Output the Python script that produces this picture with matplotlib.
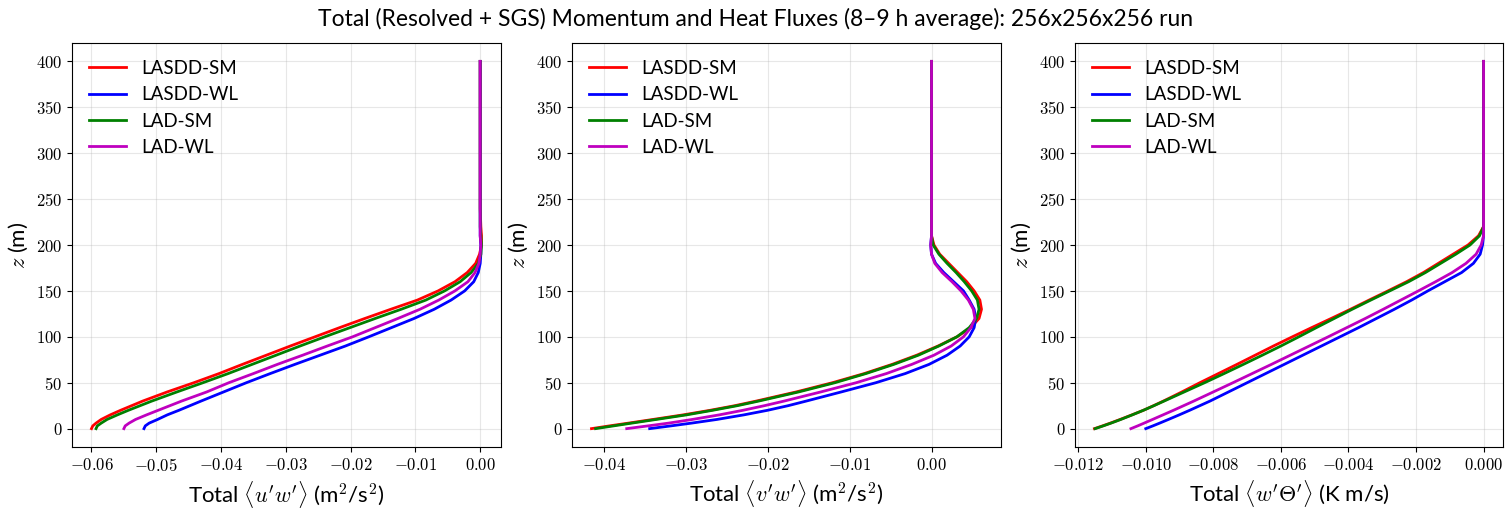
import matplotlib
matplotlib.use("Agg")
import matplotlib.pyplot as plt
from matplotlib.ticker import FuncFormatter, MultipleLocator

plt.rcParams['mathtext.fontset'] = 'cm'
plt.rcParams['font.family'] = ['Lato', 'DejaVu Sans']

# ---------------- data ----------------
z = [0, 3, 6, 10, 15, 20, 25, 30, 40, 50, 60, 70, 80, 90, 100, 110, 120, 130, 140, 150,
     160, 170, 180, 190, 200, 210, 220, 240, 270, 300, 350, 400]

labels = ["LASDD-SM", "LASDD-WL", "LAD-SM", "LAD-WL"]
colors = ["r", "b", "g", "m"]

# Total <u'w'> (m^2/s^2)
uw_lasdd_sm = [-0.0600, -0.0598, -0.0593, -0.0585, -0.0571, -0.0555, -0.0538, -0.0521,
               -0.0483, -0.0442, -0.0403, -0.0367, -0.0330, -0.0293, -0.0255, -0.0217,
               -0.0178, -0.0138, -0.0097, -0.0065, -0.0039, -0.0020, -0.0007, -0.0001,
               0.0002, 0.0002, 0.0001, 0.0, 0.0, 0.0, 0.0, 0.0]
uw_lasdd_wl = [-0.0519, -0.0517, -0.0511, -0.0498, -0.0483, -0.0465, -0.0448, -0.0431,
               -0.0396, -0.0361, -0.0324, -0.0286, -0.0247, -0.0208, -0.0172, -0.0137,
               -0.0102, -0.0071, -0.0045, -0.0024, -0.0010, -0.0003, 0.0, 0.0001,
               0.0001, 0.0, 0.0, 0.0, 0.0, 0.0, 0.0, 0.0]
uw_lad_sm = [-0.0593, -0.0591, -0.0585, -0.0576, -0.0560, -0.0543, -0.0525, -0.0507,
             -0.0468, -0.0428, -0.0389, -0.0352, -0.0315, -0.0278, -0.0240, -0.0201,
             -0.0162, -0.0122, -0.0084, -0.0055, -0.0031, -0.0014, -0.0003, 0.0001,
             0.0002, 0.0001, 0.0, 0.0, 0.0, 0.0, 0.0, 0.0]
uw_lad_wl = [-0.0550, -0.0548, -0.0542, -0.0532, -0.0515, -0.0497, -0.0479, -0.0461,
             -0.0422, -0.0388, -0.0350, -0.0313, -0.0274, -0.0236, -0.0197, -0.0162,
             -0.0127, -0.0093, -0.0064, -0.0039, -0.0019, -0.0008, -0.0002, 0.0,
             0.0001, 0.0, 0.0, 0.0, 0.0, 0.0, 0.0, 0.0]

# Total <v'w'> (m^2/s^2)
vw_lasdd_sm = [-0.0415, -0.0393, -0.0370, -0.0340, -0.0303, -0.0270, -0.0240, -0.0214,
               -0.0165, -0.0121, -0.0082, -0.0048, -0.0018, 0.0008, 0.0031, 0.0048,
               0.0058, 0.0061, 0.0059, 0.0052, 0.0043, 0.0032, 0.0021, 0.0010,
               0.0003, 0.0, 0.0, 0.0, 0.0, 0.0, 0.0, 0.0]
vw_lasdd_wl = [-0.0344, -0.0318, -0.0293, -0.0262, -0.0229, -0.0200, -0.0175, -0.0153,
               -0.0110, -0.0068, -0.0032, -0.0003, 0.0019, 0.0035, 0.0046, 0.0052,
               0.0054, 0.0052, 0.0046, 0.0039, 0.0027, 0.0015, 0.0005, 0.0,
               -0.0001, 0.0, 0.0, 0.0, 0.0, 0.0, 0.0, 0.0]
vw_lad_sm = [-0.0410, -0.0388, -0.0366, -0.0336, -0.0299, -0.0267, -0.0237, -0.0211,
             -0.0162, -0.0118, -0.0080, -0.0046, -0.0016, 0.0009, 0.0031, 0.0046,
             0.0055, 0.0058, 0.0056, 0.0049, 0.0040, 0.0030, 0.0019, 0.0009,
             0.0002, 0.0, 0.0, 0.0, 0.0, 0.0, 0.0, 0.0]
vw_lad_wl = [-0.0372, -0.0346, -0.0321, -0.0292, -0.0259, -0.0230, -0.0204, -0.0180,
             -0.0135, -0.0092, -0.0055, -0.0024, 0.0003, 0.0024, 0.0039, 0.0048,
             0.0053, 0.0051, 0.0045, 0.0036, 0.0025, 0.0013, 0.0004, 0.0,
             -0.0001, 0.0, 0.0, 0.0, 0.0, 0.0, 0.0, 0.0]

# Total <w'Theta'> (K m/s)
wt_lasdd_sm = [-0.01152, -0.01128, -0.01105, -0.01076, -0.01041, -0.01007, -0.00977, -0.00948,
               -0.00893, -0.00840, -0.00785, -0.00730, -0.00676, -0.00622, -0.00566, -0.00509,
               -0.00451, -0.00394, -0.00339, -0.00283, -0.00228, -0.00178, -0.00134, -0.00090,
               -0.00046, -0.00015, 0.0, 0.0, 0.0, 0.0, 0.0, 0.0]
wt_lasdd_wl = [-0.01000, -0.00979, -0.00959, -0.00933, -0.00901, -0.00870, -0.00840, -0.00810,
               -0.00755, -0.00700, -0.00645, -0.00590, -0.00535, -0.00480, -0.00425, -0.00370,
               -0.00317, -0.00264, -0.00213, -0.00165, -0.00115, -0.00065, -0.00030, -0.00010,
               -0.00003, 0.0, 0.0, 0.0, 0.0, 0.0, 0.0, 0.0]
wt_lad_sm = [-0.01150, -0.01126, -0.01103, -0.01074, -0.01040, -0.01007, -0.00976, -0.00946,
             -0.00886, -0.00826, -0.00768, -0.00711, -0.00655, -0.00600, -0.00547, -0.00495,
             -0.00442, -0.00389, -0.00334, -0.00278, -0.00222, -0.00172, -0.00127, -0.00082,
             -0.00040, -0.00012, 0.0, 0.0, 0.0, 0.0, 0.0, 0.0]
wt_lad_wl = [-0.01044, -0.01024, -0.01005, -0.00980, -0.00949, -0.00918, -0.00888, -0.00858,
             -0.00800, -0.00742, -0.00685, -0.00628, -0.00572, -0.00516, -0.00460, -0.00405,
             -0.00350, -0.00297, -0.00245, -0.00193, -0.00142, -0.00093, -0.00052, -0.00022,
             -0.00007, 0.0, 0.0, 0.0, 0.0, 0.0, 0.0, 0.0]

panels = [
    ([uw_lasdd_sm, uw_lasdd_wl, uw_lad_sm, uw_lad_wl],
     r"Total $\langle u'w'\rangle$ (m$^2$/s$^2$)", 2),
    ([vw_lasdd_sm, vw_lasdd_wl, vw_lad_sm, vw_lad_wl],
     r"Total $\langle v'w'\rangle$ (m$^2$/s$^2$)", 2),
    ([wt_lasdd_sm, wt_lasdd_wl, wt_lad_sm, wt_lad_wl],
     r"Total $\langle w'\Theta'\rangle$ (K m/s)", 3),
]

W, H = 1511, 511
fig = plt.figure(figsize=(W / 100, H / 100), dpi=100)
boxes = [(72, 501), (572, 1001), (1075, 1503)]
top_px, bot_px = 43, 447

for (series, xlabel, dec), (l, r) in zip(panels, boxes):
    ax = fig.add_axes([l / W, 1 - bot_px / H, (r - l) / W, (bot_px - top_px) / H])
    for vals, lab, c in zip(series, labels, colors):
        ax.plot(vals, z, color=c, lw=2, label=lab)
    ax.grid(True, alpha=0.3)
    ax.yaxis.set_major_locator(MultipleLocator(50))

    def fmt(v, p, d=dec):
        if abs(v) < 1e-12:
            v = 0.0
        return f"${v:.{d}f}$"
    ax.xaxis.set_major_formatter(FuncFormatter(fmt))
    ax.yaxis.set_major_formatter(FuncFormatter(lambda v, p: f"${v:.0f}$"))
    ax.tick_params(labelsize=12)
    ax.set_xlabel(xlabel, fontsize=16)
    ax.set_ylabel(r"$z$ (m)", fontsize=16)
    ax.legend(loc="upper left", fontsize=13.5, frameon=False)

fig.suptitle("Total (Resolved + SGS) Momentum and Heat Fluxes (8–9 h average): 256x256x256 run",
             fontsize=16.5, y=0.985)

fig.savefig("out.png", dpi=100)
